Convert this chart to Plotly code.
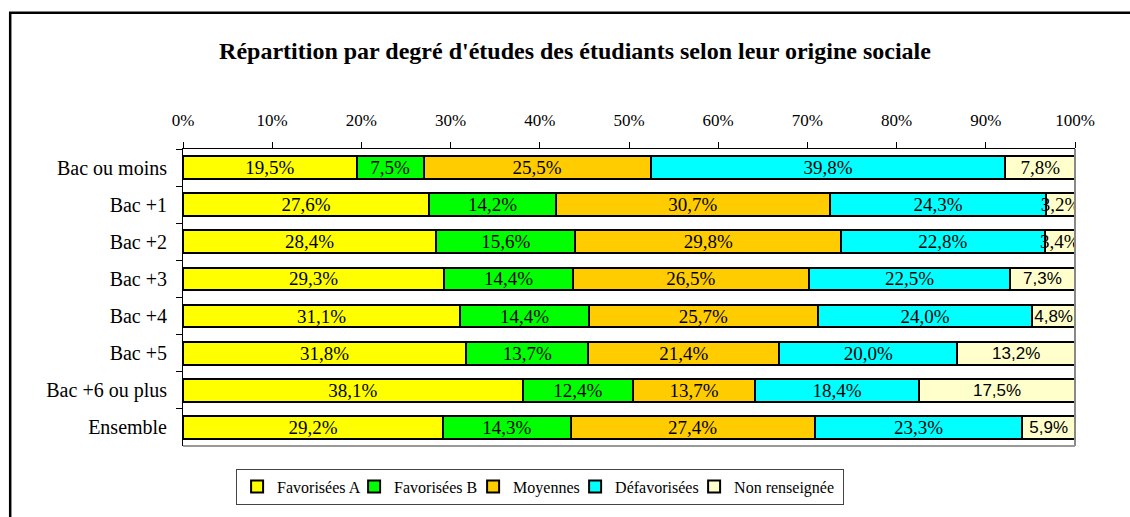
import plotly.graph_objects as go

categories = ["Bac ou moins", "Bac +1", "Bac +2", "Bac +3", "Bac +4", "Bac +5", "Bac +6 ou plus", "Ensemble"]
series_names = ["Favorisées A", "Favorisées B", "Moyennes", "Défavorisées", "Non renseignée"]
fav_a = [19.5, 27.6, 28.4, 29.3, 31.1, 31.8, 38.1, 29.2]
fav_b = [7.5, 14.2, 15.6, 14.4, 14.4, 13.7, 12.4, 14.3]
moyennes = [25.5, 30.7, 29.8, 26.5, 25.7, 21.4, 13.7, 27.4]
defav = [39.8, 24.3, 22.8, 22.5, 24.0, 20.0, 18.4, 23.3]
non_rens = [7.8, 3.2, 3.4, 7.3, 4.8, 13.2, 17.5, 5.9]
x_ticks = [0, 10, 20, 30, 40, 50, 60, 70, 80, 90, 100]
x_tick_labels = ["0%", "10%", "20%", "30%", "40%", "50%", "60%", "70%", "80%", "90%", "100%"]
title_text = "Répartition par degré d'études des étudiants selon leur origine sociale"

colors = ["#FFFF00", "#00FF00", "#FFCC00", "#00FFFF", "#FFFFCC"]
serif = "Liberation Serif"
sans = "Liberation Sans"

W, H = 1130, 517
L, R, T, B = 182.5, 1075.5, 149, 450


def fmt(v):
    return f"{v:.1f}".replace(".", ",") + "%"


fig = go.Figure()
all_series = [fav_a, fav_b, moyennes, defav, non_rens]
legend_w = [72, 74, 57, 74, 104]
for i, (name, vals) in enumerate(zip(series_names, all_series)):
    if i == 4:
        fam = [serif, serif, serif, sans, sans, sans, sans, sans]
        sz = [19, 19, 19, 17, 17, 17, 17, 17]
    else:
        fam = [serif] * len(vals)
        sz = [19] * len(vals)
    fig.add_trace(go.Bar(
        y=categories, x=vals, name=name, orientation="h",
        marker=dict(color=colors[i], line=dict(color="black", width=2)),
        text=[fmt(v) for v in vals],
        textposition="inside", insidetextanchor="middle",
        textangle=0, constraintext="none",
        textfont=dict(family=fam, size=sz, color="black"),
        legendwidth=legend_w[i],
    ))


def px2x(px):
    return (px - L) / (R - L)


def py2y(py):
    return (B - py) / (B - T)


fig.update_layout(
    width=W, height=H,
    barmode="stack", barnorm="percent", bargap=0.39,
    paper_bgcolor="white", plot_bgcolor="white",
    margin=dict(l=L, r=W - R, t=T, b=H - B, pad=0),
    font=dict(family=serif, color="black"),
    title=dict(text=title_text, x=575 / W, xanchor="center", y=1 - 51 / H, yanchor="middle",
               font=dict(family=serif, size=24, color="black", weight="bold")),
    xaxis=dict(side="top", range=[0, 100], tickvals=x_ticks, ticktext=x_tick_labels,
               ticks="outside", ticklen=6, tickcolor="black", showline=True, linecolor="black",
               linewidth=1, showgrid=False, zeroline=False, ticklabelstandoff=9,
               tickfont=dict(family=serif, size=17, color="black"), fixedrange=True),
    yaxis=dict(autorange="reversed", ticks="outside", tickson="boundaries", ticklen=6,
               tickcolor="black", showline=True, linecolor="black", linewidth=1,
               showgrid=False, ticklabelstandoff=11,
               tickfont=dict(family=serif, size=20, color="black"), fixedrange=True),
    legend=dict(orientation="h", x=px2x(540), xanchor="center", y=py2y(473), yanchor="top",
                bordercolor="#444444", borderwidth=1, bgcolor="white",
                font=dict(family=serif, size=16, color="black"), traceorder="normal"),
    showlegend=True,
    shapes=[
        dict(type="line", xref="paper", yref="paper", x0=1, x1=1, y0=0, y1=1,
             line=dict(color="#888888", width=2)),
        dict(type="line", xref="paper", yref="paper", x0=0, x1=1, y0=0, y1=0,
             line=dict(color="#999999", width=2)),
        dict(type="rect", xref="paper", yref="paper", x0=px2x(9.5), x1=px2x(1140),
             y0=py2y(530), y1=py2y(11), line=dict(color="black", width=2.5)),
    ],
)

fig.write_html("out.html", config={"displayModeBar": False},
               post_script="document.body.style.margin='0';")
